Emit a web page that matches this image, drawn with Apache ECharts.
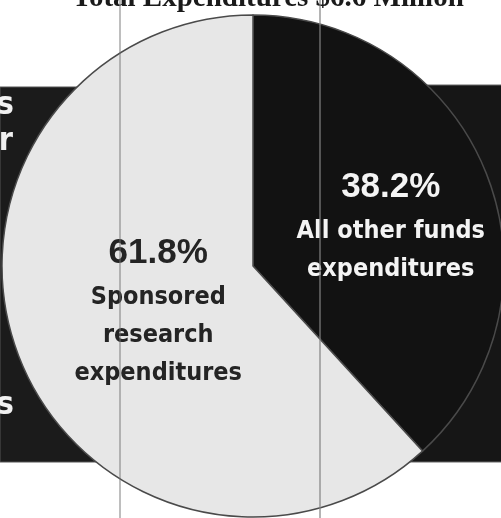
<!DOCTYPE html>
<html>
<head>
<meta charset="utf-8">
<script src="https://cdn.jsdelivr.net/npm/echarts@6/dist/echarts.min.js"></script>
<style>
html,body{margin:0;padding:0;background:#fff;}
#chart{width:501px;height:518px;}
</style>
</head>
<body>
<div id="chart"></div>
<script>
const titleText = 'Total Expenditures $6.6 Million';
const categories = ['All other funds expenditures', 'Sponsored research expenditures'];
const values = [38.2, 61.8];
const labelLines = [['All other funds', 'expenditures'], ['Sponsored', 'research', 'expenditures']];
const sideLabels = ['funds', 'other', 'expenditures'];

const sliceColors = ['#121212', '#e7e7e7'];
const labelColors = ['#f4f4f4', '#242424'];
const labelOffsets = [[18, 6], [25, -2]];

const narrow = "'DejaVu Sans Condensed', 'DejaVu Sans', sans-serif";

const chart = echarts.init(document.getElementById('chart'));

const data = categories.map((name, i) => ({
  name: name,
  value: values[i],
  itemStyle: { color: sliceColors[i] },
  label: {
    offset: labelOffsets[i],
    formatter: () => '{p|' + values[i].toFixed(1) + '%}\n' + labelLines[i].map(s => '{t|' + s + '}').join('\n'),
    rich: {
      p: { fontFamily: "'Liberation Sans', Arial, sans-serif", fontWeight: 'bold', fontSize: 35, lineHeight: 50, color: labelColors[i] },
      t: { fontFamily: narrow, fontWeight: 'bold', fontSize: 25, lineHeight: 38, color: labelColors[i] }
    }
  }
}));

const option = {
  backgroundColor: '#ffffff',
  animation: false,
  graphic: [
    { type: 'rect', z: 0, shape: { x: 0, y: 87, width: 200, height: 375 }, style: { fill: '#1b1b1b', stroke: '#555', lineWidth: 1 } },
    { type: 'rect', z: 0, shape: { x: 300, y: 85, width: 210, height: 377 }, style: { fill: '#161616', stroke: '#666', lineWidth: 1 } },
    { type: 'text', z: 1, x: 14, y: 106, style: { text: sideLabels[0], align: 'right', verticalAlign: 'middle', fill: '#f0f0f0', font: 'bold 32px ' + narrow } },
    { type: 'text', z: 1, x: 13, y: 142, style: { text: sideLabels[1], align: 'right', verticalAlign: 'middle', fill: '#f0f0f0', font: 'bold 32px ' + narrow } },
    { type: 'text', z: 1, x: 14, y: 406, style: { text: sideLabels[2], align: 'right', verticalAlign: 'middle', fill: '#f0f0f0', font: 'bold 32px ' + narrow } },
    { type: 'text', z: 1, x: 268, y: 13, style: { text: titleText, align: 'center', verticalAlign: 'bottom', fill: '#1a1a1a', font: "bold 29px 'Liberation Serif', 'Times New Roman', serif" } },
    { type: 'line', z: 100, shape: { x1: 120, y1: 0, x2: 120, y2: 518 }, style: { stroke: 'rgba(110,110,110,0.45)', lineWidth: 2 } },
    { type: 'line', z: 100, shape: { x1: 320, y1: 0, x2: 320, y2: 518 }, style: { stroke: 'rgba(130,130,130,0.6)', lineWidth: 2 } }
  ],
  series: [{
    type: 'pie',
    z: 5,
    center: [253, 266],
    radius: 251,
    startAngle: 90,
    clockwise: true,
    silent: true,
    itemStyle: { borderColor: '#4a4a4a', borderWidth: 1.5 },
    label: { show: true, position: 'inside', align: 'center' },
    labelLine: { show: false },
    emphasis: { disabled: true },
    data: data
  }]
};
chart.setOption(option);
</script>
</body>
</html>
